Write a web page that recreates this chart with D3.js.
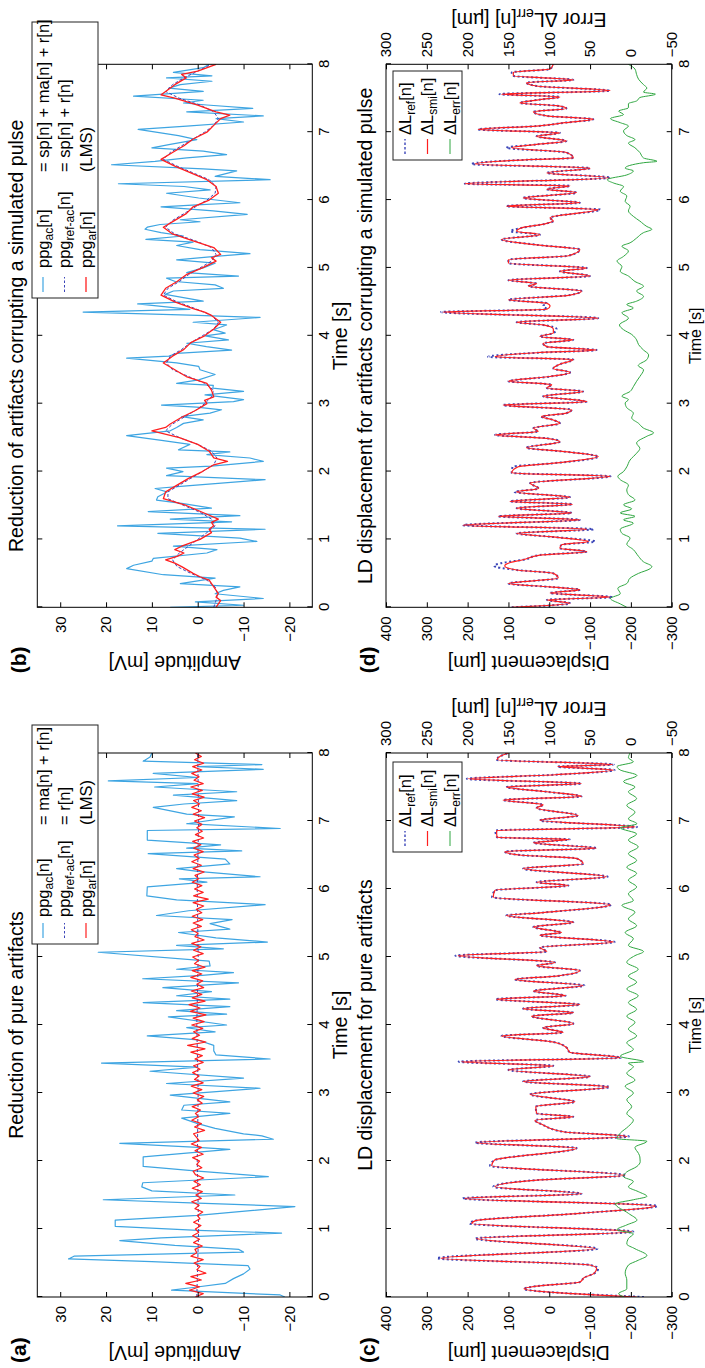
<!DOCTYPE html>
<html lang="en">
<head>
<meta charset="UTF-8">
<script src="https://cdn.jsdelivr.net/npm/d3@7"></script>
<style>
  body { margin: 0; background: #fff; }
  svg { display: block; font-family: "Liberation Sans", Arial, sans-serif; }
</style>
</head>
<body>
<script>
// ---- data (time in s) ----
var timeTicks = [0, 1, 2, 3, 4, 5, 6, 7, 8];
var ampTicks = [-20, -10, 0, 10, 20, 30];
var dispTicks = [-300, -200, -100, 0, 100, 200, 300, 400];
var errTicks = [-50, 0, 50, 100, 150, 200, 250, 300];

// (a) ppg_ac = ma + r
var acA = [[0,-19],[0.03,-18],[0.1,5.7],[0.14,1],[0.2,-6],[0.27,-7.8],[0.34,-10],[0.41,-11.4],[0.46,-11],[0.52,10],[0.56,28.2],[0.6,27],[0.66,-10],[0.7,-9],[0.76,5],[0.83,17],[0.87,8],[0.94,-18.3],[0.98,0],[1.04,18],[1.13,18],[1.2,0],[1.33,-21.2],[1.38,0],[1.43,20.6],[1.5,-8.1],[1.56,10],[1.62,12.2],[1.68,12],[1.77,-15.4],[1.85,0],[1.92,11.9],[2.06,11.9],[2.17,-7],[2.2,0],[2.26,17],[2.32,-16.5],[2.37,-14],[2.4,-10],[2.48,-3.8],[2.55,0],[2.63,3.5],[2.7,-7],[2.75,3.5],[2.82,3],[2.87,-7],[2.97,6],[3.07,-13.6],[3.14,6.8],[3.22,-10],[3.32,10.4],[3.38,0],[3.44,21],[3.5,-15.8],[3.56,-4],[3.62,-3.5],[3.7,-3.5],[3.78,0],[3.84,11],[3.9,-3.8],[3.96,2.4],[4.0,-6.3],[4.12,6.4],[4.16,-6.3],[4.21,4.6],[4.27,-7],[4.33,11.9],[4.38,-7],[4.43,4.6],[4.49,-3],[4.55,7.6],[4.62,-8.9],[4.68,12],[4.73,-1],[4.77,-7.8],[4.82,4.6],[4.87,-2.7],[4.94,-2.5],[5.07,21.7],[5.12,-5.6],[5.17,4.6],[5.22,-15.2],[5.28,-4],[5.36,4.2],[5.41,-7],[5.49,-2.7],[5.55,-7.5],[5.61,9],[5.68,2],[5.77,-14.7],[5.84,4.6],[5.9,11.1],[6.03,11],[6.1,-2],[6.15,4],[6.18,-13.6],[6.26,0],[6.3,4.6],[6.37,-7],[6.44,-6],[6.52,10.8],[6.56,-9.6],[6.6,2.4],[6.65,-5],[6.72,11],[6.86,11],[6.89,-18],[6.96,2.4],[7.06,-8],[7.1,2.4],[7.2,9.7],[7.25,3],[7.3,-8.5],[7.38,5.3],[7.43,-8.5],[7.5,9.4],[7.55,0],[7.59,19.5],[7.64,0],[7.7,9.7],[7.76,-14.3],[7.8,0],[7.83,-14],[7.88,11.9],[7.94,10.4],[8.0,10]];
var refA = [[0,0.2],[1,-0.2],[2,0.1],[3,-0.1],[4,0.2],[5,-0.1],[6,0.1],[7,-0.2],[8,0]];
// (a) ppg_ar (LMS), sampled every 0.05 s
var arStep = 0.05;
var arA = [0.5,-1.2,1.8,-0.4,2.6,-0.8,1.5,-1.8,0.2,-0.5,0.8,
  -1.2,1.5,0.2,0.6,-1.0,0.9,-0.4,1.1,-0.2,0.5,
  -0.7,0.9,-0.5,0.1,-1.1,0.6,-0.3,1.3,-0.8,0.4,
  -1.0,1.2,-0.6,0.8,-1.3,0.5,1.0,-0.9,0.2,-0.4,
  1.1,-1.2,0.6,-0.8,1.4,-0.3,0.3,0.9,-1.5,0.7,
  -0.8,1.3,-0.2,0.5,-0.6,1.2,-1.0,0.1,-1.3,1.0,
  -0.9,1.4,-1.2,0.7,-0.3,1.1,-0.5,0.9,-1.2,0.6,
  -1.0,1.5,-1.6,2.2,-1.8,1.2,-0.4,0.9,-1.1,1.3,
  -1.4,1.0,-1.8,1.6,-0.5,1.9,-1.6,1.2,-0.9,1.4,
  -1.3,0.2,-1.1,1.5,-0.9,1.2,-1.6,0.7,-0.2,1.1,
  -1.2,0.9,-0.7,1.3,-1.4,0.6,-0.1,1.4,-0.8,1.0,
  -1.1,1.2,-0.9,0.3,-1.3,1.0,-2.3,0.9,-1.2,0.7,
  -0.9,1.2,-0.2,0.6,-1.4,1.0,-0.8,1.3,-0.3,0.8,
  -1.2,0.9,-0.7,1.1,-1.3,0.5,-1.0,0.2,-0.9,0.7,
  -1.5,1.0,-0.8,1.3,-0.4,0.9,-1.4,1.2,-1.0,1.5,
  -1.2,0.8,-0.3,1.3,-0.9,1.1,-1.3,0.7,-0.8,0.5];

// (b) ppg_ac = sp + ma + r
var acB = [[0,6],[0.03,-10],[0.08,0.5],[0.13,-14.3],[0.2,-3.8],[0.25,-5.6],[0.3,-9.2],[0.35,3.8],[0.43,-3.8],[0.48,7.5],[0.57,15.5],[0.62,14],[0.68,10],[0.72,9.7],[0.8,-2],[0.85,-4.2],[0.9,5.3],[0.97,-12.9],[1.02,-9.2],[1.09,8.7],[1.15,-14.7],[1.2,17.5],[1.26,-7.4],[1.3,6],[1.35,-9.2],[1.41,10.8],[1.46,-3],[1.53,3.5],[1.58,9],[1.63,8.7],[1.7,6.7],[1.75,9.3],[1.79,2.4],[1.88,-14.7],[1.94,6.8],[2.0,3.2],[2.05,6.8],[2.08,-3],[2.15,-14.3],[2.2,-11.4],[2.25,-2],[2.29,-7],[2.32,4.2],[2.4,1.7],[2.46,7.9],[2.53,15.5],[2.57,10],[2.6,6],[2.65,4.6],[2.71,3.1],[2.76,-1.2],[2.81,3.5],[2.86,-2.7],[2.91,-5.2],[2.95,0.2],[2.98,7.9],[3.03,-7.8],[3.06,-10],[3.13,-1.6],[3.18,-10],[3.23,-3.3],[3.27,-3.4],[3.3,4.6],[3.35,-0.2],[3.43,-3.8],[3.5,-0.5],[3.55,-0.2],[3.6,4.6],[3.67,15.5],[3.7,6.3],[3.74,4.6],[3.79,-7.4],[3.84,-1.9],[3.89,2.4],[3.94,-6.7],[4.0,-1.6],[4.04,-6],[4.09,-3.4],[4.16,-6.3],[4.2,1],[4.27,-13.6],[4.3,0],[4.35,25],[4.39,1.7],[4.47,13.1],[4.51,-1.2],[4.61,7.1],[4.66,5.3],[4.7,-5.6],[4.75,-3.8],[4.8,4.9],[4.85,6.8],[4.88,-8.9],[4.93,2.4],[5.0,-1.2],[5.07,-3.8],[5.12,4.6],[5.17,-3.8],[5.21,-11.4],[5.27,-0.5],[5.33,4.6],[5.38,1],[5.42,11.3],[5.47,3.1],[5.52,8],[5.57,11.5],[5.6,11],[5.64,8.2],[5.68,-0.5],[5.71,3.8],[5.79,-10.8],[5.84,-3.4],[5.9,8],[5.93,0.2],[5.96,-9.2],[6.03,-0.2],[6.1,6.8],[6.15,-2.7],[6.2,3],[6.24,17.3],[6.3,-15.8],[6.35,-3.8],[6.43,-8.5],[6.46,-1.2],[6.52,18.8],[6.57,9.3],[6.62,2.4],[6.67,-6.3],[6.72,-1.2],[6.77,10],[6.82,6],[6.89,0.2],[6.95,4.2],[7.04,13],[7.09,2.4],[7.15,-10],[7.2,-4],[7.24,-14.3],[7.3,2.4],[7.35,-12],[7.4,-2],[7.43,3.1],[7.47,-1.2],[7.53,14],[7.6,-1.2],[7.65,6.3],[7.7,3.8],[7.75,-3.1],[7.8,6.8],[7.83,-3.1],[7.88,5.3],[7.95,-1.2],[8.0,-2.5]];
// (b) ppg_ref-ac = sp + r, every 0.1 s
var refStep = 0.1;
var refB = [-3.5,-4,-4.3,-3.8,-2,1.5,4.5,5.5,4,2,
  0,-2,-3.8,-3,-0.5,3,6.5,6.5,4,1.5,
  -1,-3.5,-4.2,-3,0,4,7,5.5,3,0.5,
  -1.5,-3,-3.5,-1.5,2,5.5,6.8,6,3.5,1.5,
  -1,-3.5,-4.5,-3,0.5,4.5,7.5,6.5,4,2,
  -0.5,-3,-4,-3,0.5,5,7,5.5,3,0.5,
  -2,-3.8,-4,-2.5,1,4.5,7.5,6,3.5,1,
  -1.5,-3.5,-4.5,-3.5,-0.5,4,7,5.5,3,0,
  -3];
// (b) ppg_ar (LMS)
var arB = [[0,-4],[0.05,-4.5],[0.1,-5],[0.15,-4],[0.2,-4.5],[0.3,-3.5],[0.4,-2.5],[0.45,-0.5],[0.5,1],[0.6,3.5],[0.65,5],[0.7,7],[0.75,4.5],[0.8,3],[0.85,5],[0.9,3.5],[1.0,-0.5],[1.1,-3],[1.15,-2.5],[1.2,-3.5],[1.25,-3],[1.3,-4.5],[1.4,-1],[1.5,2.5],[1.6,7.5],[1.7,7],[1.8,4.5],[1.9,2],[2.0,-1],[2.1,-3.5],[2.15,-6.5],[2.2,-3.5],[2.3,-2.5],[2.4,0],[2.5,4],[2.6,10],[2.65,7],[2.7,6],[2.8,3.5],[2.9,0.5],[3.0,-2],[3.05,-1.5],[3.1,-3.5],[3.2,-3],[3.3,-2],[3.4,2.5],[3.5,5],[3.6,7.5],[3.7,5.5],[3.8,3],[3.9,1.5],[4.0,-1.5],[4.1,-3.5],[4.2,-5],[4.3,-3],[4.35,-1.5],[4.4,1],[4.5,5],[4.6,8],[4.7,7],[4.8,4.5],[4.9,2.5],[5.0,-1],[5.1,-4],[5.15,-3],[5.2,-5],[5.3,-3.5],[5.4,1],[5.5,5.5],[5.6,7.5],[5.7,5],[5.8,2.5],[5.9,1],[6.0,-2.5],[6.1,-4.5],[6.2,-4],[6.3,-2],[6.4,1.5],[6.5,5],[6.6,8],[6.7,5.5],[6.8,3],[6.9,1],[7.0,-2],[7.1,-3.5],[7.2,-5],[7.25,-7],[7.3,-4],[7.4,0],[7.5,5],[7.55,8],[7.6,7],[7.7,5],[7.8,2.5],[7.85,3.5],[7.9,0],[8.0,-4]];

// (c) rows: [t, dL_ref, dL_smi]
var dispC = [[0,-232,-214],[0.12,62,62],[0.16,30,30],[0.22,-75,-75],[0.29,-87,-87],[0.34,-108,-108],[0.42,-120,-116],[0.47,-100,-100],[0.57,275,265],[0.71,-118,-112],[0.86,182,178],[0.96,-206,-202],[1.08,195,190],[1.12,185,182],[1.23,-75,-75],[1.34,-265,-259],[1.45,212,207],[1.52,-79,-79],[1.62,137,133],[1.72,30,30],[1.79,-188,-185],[1.93,145,141],[2.01,135,135],[2.19,-67,-67],[2.27,182,178],[2.36,-195,-190],[2.43,-34,-34],[2.53,15,15],[2.6,35,35],[2.65,-59,-59],[2.7,31,31],[2.8,33,33],[2.87,-63,-63],[2.98,47,47],[3.09,-148,-145],[3.17,64,64],[3.24,-100,-100],[3.34,100,100],[3.4,-10,-10],[3.46,222,215],[3.52,-176,-173],[3.6,-50,-50],[3.67,-42,-42],[3.75,-10,-10],[3.84,117,117],[3.89,-34,-34],[3.96,15,15],[4.02,-59,-59],[4.13,43,43],[4.18,-59,-59],[4.24,64,64],[4.3,-75,-75],[4.38,132,129],[4.43,-40,-40],[4.5,39,39],[4.58,-86,-83],[4.67,84,84],[4.72,-18,-18],[4.8,-75,-75],[4.87,31,31],[4.92,-14,-14],[5.02,230,223],[5.08,6,6],[5.14,23,23],[5.22,-160,-157],[5.32,23,23],[5.36,-30,-30],[5.44,39,39],[5.51,-59,-59],[5.61,105,105],[5.65,23,23],[5.77,-152,-149],[5.88,140,137],[5.98,133,133],[6.05,-47,-47],[6.1,31,31],[6.18,-143,-140],[6.3,64,64],[6.37,-83,-83],[6.45,-67,-67],[6.5,72,72],[6.55,109,109],[6.6,-115,-115],[6.68,39,39],[6.73,-50,-50],[6.76,128,128],[6.86,132,129],[6.91,-215,-210],[7.01,23,23],[7.08,-71,-71],[7.19,31,31],[7.24,15,15],[7.31,113,113],[7.36,-79,-79],[7.43,6,6],[7.5,105,105],[7.55,-79,-79],[7.62,202,199],[7.68,-14,-14],[7.75,-160,-157],[7.8,-20,-20],[7.83,-158,-155],[7.9,130,128],[7.95,121,121],[8.0,100,100]];
var errC = [[0,8],[0.05,15],[0.12,5],[0.25,5],[0.35,7],[0.47,3],[0.54,-9],[0.61,-19.6],[0.71,-5],[0.78,5],[0.86,3],[0.93,-3],[0.99,17],[1.06,5],[1.13,-7.4],[1.23,3],[1.37,19],[1.43,-3],[1.48,-19.6],[1.55,-9],[1.62,3],[1.7,-3],[1.77,9],[1.84,5],[1.92,-7.4],[1.99,-11.4],[2.06,-11],[2.11,-9.4],[2.2,-5],[2.29,-19.6],[2.33,17],[2.41,13],[2.51,3],[2.6,-3],[2.7,5],[2.8,-1],[2.9,5],[3.0,-3],[3.1,7],[3.19,-5],[3.29,5],[3.39,-3],[3.44,3],[3.46,-15.5],[3.54,13],[3.64,-3],[3.74,5],[3.84,-7],[3.94,3],[4.04,-5],[4.13,5],[4.23,-7],[4.33,3],[4.43,-9],[4.53,5],[4.63,-7],[4.72,3],[4.82,-9],[4.92,5],[5.02,-5],[5.08,-15.5],[5.17,3],[5.27,-3],[5.36,7],[5.46,-7],[5.56,3],[5.66,-5],[5.76,11],[5.83,-3],[5.93,3],[6.03,-7],[6.13,3],[6.23,-7],[6.32,5],[6.42,-7],[6.52,3],[6.62,-9],[6.72,3],[6.81,-7],[6.9,13],[6.96,-7.4],[7.03,3],[7.13,-5],[7.23,5],[7.33,-7],[7.43,3],[7.5,-5],[7.58,9],[7.67,-7.4],[7.75,13],[7.8,17],[7.87,-3],[7.93,3],[8.0,1]];

// (d) rows: [t, dL_ref, dL_smi]
var dispD = [[0,92,92],[0.06,-51,-51],[0.11,6,6],[0.15,-155,-149],[0.21,-2,-2],[0.26,-75,-75],[0.3,-2,-2],[0.35,100,100],[0.43,-22,-22],[0.5,-10,-10],[0.55,80,80],[0.61,135,109],[0.66,110,95],[0.7,64,64],[0.77,23,23],[0.82,-92,-92],[0.87,-26,-26],[0.92,-30,-30],[0.97,-112,-96],[1.04,-2,-2],[1.09,80,80],[1.15,-108,-92],[1.21,211,211],[1.29,-75,-75],[1.34,125,125],[1.39,-55,-55],[1.46,80,80],[1.52,-57,-57],[1.56,96,96],[1.62,-51,-51],[1.7,85,80],[1.75,26,26],[1.83,47,47],[1.93,-150,-149],[1.98,92,92],[2.07,90,76],[2.12,-6,-6],[2.22,-120,-120],[2.3,-26,-26],[2.35,56,56],[2.44,-26,-26],[2.49,6,6],[2.54,133,133],[2.59,27,27],[2.64,39,39],[2.71,-26,-26],[2.76,-10,-10],[2.81,19,19],[2.86,-42,-42],[2.91,-55,-55],[2.98,113,113],[3.03,-92,-92],[3.11,15,15],[3.18,-83,-83],[3.23,6,6],[3.28,-6,-6],[3.33,100,100],[3.4,-2,-2],[3.46,-51,-51],[3.52,-10,-10],[3.58,-26,-26],[3.65,-59,-59],[3.69,150,133],[3.75,31,31],[3.79,-116,-116],[3.84,6,6],[3.89,15,15],[3.94,-59,-59],[3.99,23,23],[4.04,-10,-10],[4.1,-18,-10],[4.16,15,15],[4.2,80,80],[4.26,-120,-120],[4.35,265,260],[4.39,6,6],[4.44,15,-2],[4.48,6,6],[4.53,100,100],[4.6,-51,-51],[4.66,-79,-79],[4.73,51,51],[4.77,31,31],[4.82,100,100],[4.88,-100,-100],[4.95,-26,-26],[5.0,-92,-92],[5.07,100,100],[5.12,100,100],[5.18,-47,-47],[5.27,-75,-75],[5.34,31,31],[5.42,117,117],[5.49,23,23],[5.54,95,80],[5.59,68,68],[5.65,10,10],[5.69,-10,-10],[5.74,-2,-2],[5.86,-125,-120],[5.91,105,105],[5.96,-75,-75],[6.03,64,64],[6.11,-67,-67],[6.16,6,6],[6.21,-51,-51],[6.24,207,207],[6.33,-150,-145],[6.4,6,6],[6.47,-100,-100],[6.53,190,182],[6.6,31,31],[6.62,-59,-59],[6.7,-42,-42],[6.77,105,92],[6.82,31,31],[6.87,-42,-42],[6.94,31,31],[6.99,-26,-26],[7.04,174,174],[7.09,31,31],[7.14,-38,-38],[7.19,-108,-108],[7.24,6,6],[7.3,39,39],[7.35,-42,-42],[7.39,-18,-18],[7.43,72,72],[7.48,23,23],[7.52,-26,-26],[7.56,122,117],[7.61,-149,-149],[7.68,31,31],[7.73,56,56],[7.77,-59,-59],[7.83,88,88],[7.88,92,88],[7.93,-2,-2],[8.0,-10,-10]];
var errD = [[0,5],[0.05,13],[0.13,25],[0.2,13],[0.28,16],[0.35,5],[0.43,1],[0.5,-9.4],[0.57,-23.7],[0.6,-25.7],[0.67,-15.5],[0.75,-9.4],[0.85,-3],[0.93,5],[1.02,1],[1.09,11],[1.15,13],[1.24,-3],[1.29,9],[1.34,-5],[1.39,13],[1.45,-1],[1.51,9],[1.58,-5],[1.66,3],[1.73,5],[1.8,3],[1.88,13],[1.93,16],[2.0,9],[2.07,5],[2.17,1],[2.27,-7],[2.34,-11],[2.42,-7],[2.52,-19.6],[2.57,-27.8],[2.64,-15.5],[2.71,-9.4],[2.79,-1],[2.86,-3],[2.94,5],[3.01,7],[3.06,3],[3.11,11],[3.18,1],[3.25,-3],[3.33,-7],[3.4,-11],[3.5,-15.5],[3.56,-9],[3.65,-19.6],[3.72,-21.7],[3.79,-15.5],[3.87,-9.4],[3.94,-7],[4.02,-1],[4.09,9],[4.16,14],[4.26,3],[4.34,11],[4.41,-3],[4.46,5],[4.51,-7],[4.58,-15.5],[4.66,-7],[4.73,-15.5],[4.8,-5],[4.88,3],[4.95,13],[5.02,11],[5.1,17],[5.17,9],[5.25,3],[5.32,11],[5.37,1],[5.44,-7],[5.52,-15.5],[5.57,-25.7],[5.61,-19.6],[5.69,-11],[5.76,-3],[5.84,3],[5.91,1],[5.98,7],[6.06,5],[6.13,13],[6.2,9],[6.25,21],[6.3,29],[6.37,5],[6.43,-3],[6.47,7],[6.55,-15.5],[6.57,-32],[6.62,-15.5],[6.7,-11],[6.77,-5],[6.84,3],[6.89,-5],[6.95,5],[7.02,9],[7.09,3],[7.14,13],[7.2,25],[7.26,9],[7.31,15],[7.36,3],[7.42,3],[7.46,-7],[7.51,-11],[7.56,-30],[7.59,-15.5],[7.65,-19.6],[7.7,-15.5],[7.78,-9.4],[7.85,-7],[7.93,-5],[8.0,3]];

// ---- colours ----
var cAc = "#3ea5e2", cRef = "#3b45b8", cRed = "#ff1f1f", cGreen = "#2fa640";

// figure is drawn landscape, then turned a quarter left onto the portrait page
var W = 1368, H = 705;
var svg = d3.select("body").append("svg").attr("width", H).attr("height", W);
svg.append("rect").attr("width", H).attr("height", W).attr("fill", "#fff");
var root = svg.append("g").attr("transform", "translate(0," + W + ") rotate(-90)");

function withTime(vals, step) {
  return vals.map(function(v, i) { return [i * step, v]; });
}

function label(sel, parts, size) {
  // parts: [text, isSub]
  var subSize = Math.round(size * 0.7);
  var down = false;
  parts.forEach(function(p) {
    var t = sel.append("tspan").text(p[0]);
    if (p[1]) { t.attr("font-size", subSize).attr("dy", 4); down = true; }
    else if (down) { t.attr("dy", -4); down = false; }
  });
}

function styleAxis(g, size) {
  g.select(".domain").remove();
  g.selectAll("line").attr("stroke", "#000");
  g.selectAll("text").attr("fill", "#000").attr("font-size", size)
    .attr("font-family", "Liberation Sans, Arial, sans-serif");
}

function drawPanel(p) {
  var g = root.append("g");
  var x = d3.scaleLinear().domain([0, 8]).range([p.left, p.right]);
  var y = d3.scaleLinear().domain(p.yDomain).range([p.bottom, p.top]);
  var y2 = p.y2Domain ? d3.scaleLinear().domain(p.y2Domain).range([p.bottom, p.top]) : null;

  g.append("clipPath").attr("id", "clip-" + p.id).append("rect")
    .attr("x", p.left).attr("y", p.top)
    .attr("width", p.right - p.left).attr("height", p.bottom - p.top);
  var plot = g.append("g").attr("clip-path", "url(#clip-" + p.id + ")");

  p.series.forEach(function(s) {
    var sy = s.right ? y2 : y;
    var col = s.col || 1;
    var line = d3.line()
      .x(function(d) { return x(d[0]); })
      .y(function(d) { return sy(d[col]); })
      .curve(s.curve || d3.curveLinear);
    plot.append("path").datum(s.data).attr("d", line)
      .attr("fill", "none").attr("stroke", s.color)
      .attr("stroke-width", s.width)
      .attr("stroke-dasharray", s.dash || null)
      .attr("stroke-linejoin", "round");
  });

  // axes, ticks pointing inward
  var bx = g.append("g").attr("transform", "translate(0," + p.bottom + ")")
    .call(d3.axisBottom(x).tickValues(timeTicks).tickSize(-5).tickSizeOuter(0).tickPadding(6.5).tickFormat(d3.format("d")));
  styleAxis(bx, 15);
  var tx = g.append("g").attr("transform", "translate(0," + p.top + ")")
    .call(d3.axisTop(x).tickValues(timeTicks).tickSize(-5).tickSizeOuter(0).tickFormat(""));
  styleAxis(tx, 15);
  var ly = g.append("g").attr("transform", "translate(" + p.left + ",0)")
    .call(d3.axisLeft(y).tickValues(p.yTicks).tickSize(-5).tickSizeOuter(0).tickPadding(9));
  styleAxis(ly, 15);
  var ry = g.append("g").attr("transform", "translate(" + p.right + ",0)");
  if (y2) {
    ry.call(d3.axisRight(y2).tickValues(p.y2Ticks).tickSize(-5).tickSizeOuter(0).tickPadding(7));
  } else {
    ry.call(d3.axisRight(y).tickValues(p.yTicks).tickSize(-5).tickSizeOuter(0).tickFormat(""));
  }
  styleAxis(ry, 15);

  g.append("rect").attr("x", p.left).attr("y", p.top)
    .attr("width", p.right - p.left).attr("height", p.bottom - p.top)
    .attr("fill", "none").attr("stroke", "#000").attr("stroke-width", 1);

  var midX = (p.left + p.right) / 2, midY = (p.top + p.bottom) / 2;
  g.append("text").attr("x", midX).attr("y", p.top - 14).attr("text-anchor", "middle")
    .attr("font-size", 19.5).text(p.title);
  g.append("text").attr("x", midX).attr("y", p.bottom + p.timeGap).attr("text-anchor", "middle")
    .attr("font-size", p.timeSize).text("Time [s]");
  g.append("text").attr("transform", "translate(" + (p.left - 49) + "," + midY + ") rotate(-90)")
    .attr("text-anchor", "middle").attr("font-size", 19.5).text(p.yLabel);
  if (p.y2Label) {
    var t2 = g.append("text").attr("transform", "translate(" + (p.right + 51) + "," + midY + ") rotate(-90)")
      .attr("text-anchor", "middle").attr("font-size", 19.5);
    label(t2, p.y2Label, 19.5);
  }
  g.append("text").attr("x", p.left - 66).attr("y", p.top - 11)
    .attr("font-size", 21).attr("font-weight", "bold").text(p.letter);

  // legend
  var L = p.legend;
  var lg = g.append("g");
  lg.append("rect").attr("x", L.x0).attr("y", L.y0)
    .attr("width", L.x1 - L.x0).attr("height", L.y1 - L.y0)
    .attr("fill", "#fff").attr("stroke", "#222").attr("stroke-width", 1);
  L.rows.forEach(function(r, i) {
    var cy = L.y0 + L.first + i * L.gap;
    var s = p.series[r.s];
    lg.append("line").attr("x1", L.x0 + L.s0).attr("x2", L.x0 + L.s0 + 15)
      .attr("y1", cy).attr("y2", cy)
      .attr("stroke", s.color).attr("stroke-width", Math.min(s.width, 1.4))
      .attr("stroke-dasharray", s.dash ? "2.5,2" : null);
    var t = lg.append("text").attr("x", L.x0 + L.t0).attr("y", cy + 5.5).attr("font-size", 16.5);
    label(t, r.name, 16.5);
    if (r.eq) {
      lg.append("text").attr("x", L.x0 + L.c2).attr("y", cy + 5.5).attr("font-size", 16.5).text(r.eq);
    }
  });
}

var ppgAc = [["ppg"], ["ac", true], ["[n]"]];
var ppgRef = [["ppg"], ["ref-ac", true], ["[n]"]];
var ppgAr = [["ppg"], ["ar", true], ["[n]"]];
var dRef = [["\u0394L"], ["ref", true], ["[n]"]];
var dSmi = [["\u0394L"], ["smi", true], ["[n]"]];
var dErr = [["\u0394L"], ["err", true], ["[n]"]];
var errLabel = [["Error \u0394L"], ["err", true], ["[n] [\u00b5m]"]];

var topY = [37.3, 312.3], botY = [386, 671.7];
var leftX = [71, 615], rightX = [760.7, 1303.7];

drawPanel({
  id: "a", letter: "(a)", title: "Reduction of pure artifacts", yLabel: "Amplitude [mV]",
  left: leftX[0], right: leftX[1], top: topY[0], bottom: topY[1], timeGap: 35, timeSize: 19.5,
  yDomain: [-25, 35], yTicks: ampTicks,
  series: [
    { data: acA, color: cAc, width: 1.2 },
    { data: refA, color: cRef, width: 1, dash: "3,2" },
    { data: withTime(arA, arStep), color: cRed, width: 1.2 }
  ],
  legend: { x0: 424, x1: 643, y0: 32, y1: 98, first: 11, gap: 21.5, s0: 6, t0: 27, c2: 119,
    rows: [{ s: 0, name: ppgAc, eq: "= ma[n] + r[n]" }, { s: 1, name: ppgRef, eq: "= r[n]" }, { s: 2, name: ppgAr, eq: "(LMS)" }] }
});

drawPanel({
  id: "b", letter: "(b)", title: "Reduction of artifacts corrupting a simulated pulse", yLabel: "Amplitude [mV]",
  left: rightX[0], right: rightX[1], top: topY[0], bottom: topY[1], timeGap: 35, timeSize: 19.5,
  yDomain: [-25, 35], yTicks: ampTicks,
  series: [
    { data: acB, color: cAc, width: 1.2 },
    { data: withTime(refB, refStep), color: cRef, width: 1, dash: "3,2" },
    { data: arB, color: cRed, width: 1.3 }
  ],
  legend: { x0: 1070, x1: 1346, y0: 32, y1: 98, first: 11, gap: 21.5, s0: 6, t0: 30, c2: 126,
    rows: [{ s: 0, name: ppgAc, eq: "= sp[n] + ma[n] + r[n]" }, { s: 1, name: ppgRef, eq: "= sp[n] + r[n]" }, { s: 2, name: ppgAr, eq: "(LMS)" }] }
});

drawPanel({
  id: "c", letter: "(c)", title: "LD displacement for pure artifacts", yLabel: "Displacement [\u00b5m]",
  y2Label: errLabel,
  left: leftX[0], right: leftX[1], top: botY[0], bottom: botY[1], timeGap: 29, timeSize: 16,
  yDomain: [-300, 400], yTicks: dispTicks, y2Domain: [-50, 300], y2Ticks: errTicks,
  series: [
    { data: dispC, col: 1, color: cRef, width: 2, dash: "2,2.5", curve: d3.curveMonotoneX },
    { data: dispC, col: 2, color: cRed, width: 1.2, curve: d3.curveMonotoneX },
    { data: errC, right: true, color: cGreen, width: 1, curve: d3.curveMonotoneX }
  ],
  legend: { x0: 516, x1: 606, y0: 393, y1: 462, first: 12, gap: 22.5, s0: 6, t0: 25,
    rows: [{ s: 0, name: dRef }, { s: 1, name: dSmi }, { s: 2, name: dErr }] }
});

drawPanel({
  id: "d", letter: "(d)", title: "LD displacement for artifacts corrupting a simulated pulse", yLabel: "Displacement [\u00b5m]",
  y2Label: errLabel,
  left: rightX[0], right: rightX[1], top: botY[0], bottom: botY[1], timeGap: 29, timeSize: 16,
  yDomain: [-300, 400], yTicks: dispTicks, y2Domain: [-50, 300], y2Ticks: errTicks,
  series: [
    { data: dispD, col: 1, color: cRef, width: 2, dash: "2,2.5", curve: d3.curveMonotoneX },
    { data: dispD, col: 2, color: cRed, width: 1.2, curve: d3.curveMonotoneX },
    { data: errD, right: true, color: cGreen, width: 1, curve: d3.curveMonotoneX }
  ],
  legend: { x0: 1208, x1: 1297, y0: 393, y1: 462, first: 12, gap: 22.5, s0: 6, t0: 25,
    rows: [{ s: 0, name: dRef }, { s: 1, name: dSmi }, { s: 2, name: dErr }] }
});
</script>
</body>
</html>
